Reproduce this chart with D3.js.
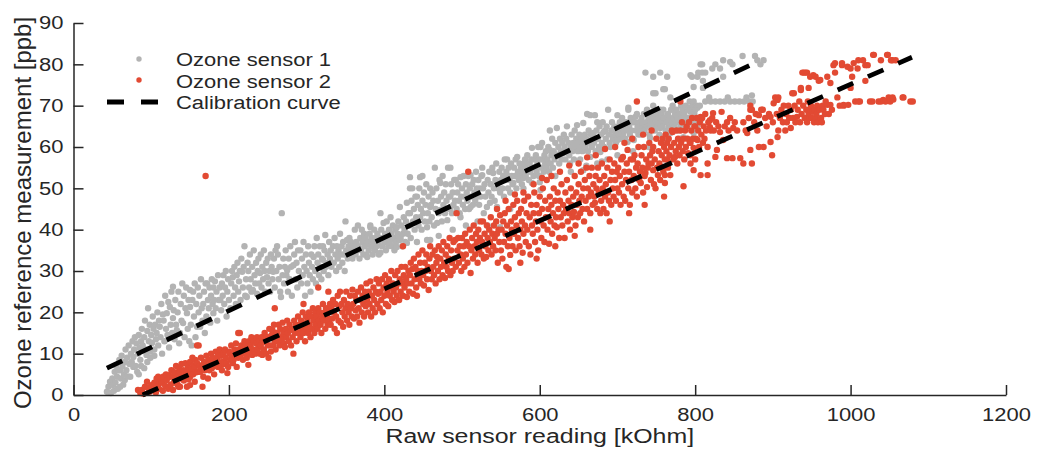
<!DOCTYPE html>
<html>
<head>
<meta charset="utf-8">
<title>Ozone sensor calibration</title>
<script src="https://d3js.org/d3.v7.min.js"></script>
<style>
  body { margin: 0; background: #fff; }
  svg { display: block; font-family: "Liberation Sans", Arial, sans-serif; }
</style>
</head>
<body>
<svg id="chart" width="1037" height="458"></svg>
<script>
// [raw reading kOhm, reference ppb]
const sensor1 = [
  [43,0.8],[45,2],[47,3.2],[48,0.5],[50,4],[51,2.4],[52,1],[53,5.6],[54,3],[55,7],[56,4.4],[57,1.5],[58,6],[59,8.5],[60,2],[60,6],[61,4],[62,9.5],[63,7],[64,2.5],[65,5],[66,3.6],[66,8],[67,11],[68,6],[69,9],[70,4.5],[71,12],[72,7.5],[73,4.4],[74,10],[75,8],[76,13],[77,6.8],[77,9.2],[78,11],[79,14],[80,7],[81,12.5],[82,5.6],[83,10],[84,14.5],[84,5],[85,11.5],[86,8.5],[87,13],[87,7],[88,16],[89,12],[90,10.9],
  [91,14],[91,6.5],[92,18],[93,11],[94,9.7],[95,15.5],[95,8],[96,21],[97,13],[98,17],[99,10.5],[99,9],[100,14.5],[101,12.6],[102,19],[103,16],[104,11],[104,9.5],[105,17],[106,13.5],[107,15],[108,20],[109,12],[110,18],[111,16.5],[112,14],[113,22],[114,10],[115,19.5],[116,18],[117,13],[118,24],[119,16],[120,19.8],[121,14.5],[122,22.5],[123,11.5],[124,21.3],[125,17],[126,25],[127,15],[128,18.6],[128,26.2],[129,20.5],[130,13.5],[131,23],[132,17],[133,15.7],[134,20],[135,25],[136,12.5],[137,15],[138,22],[139,18],[140,27],[141,17.4],[142,24],[143,14],[144,21],[145,26],[146,19.8],[147,16],[148,23],[149,13],[150,21.3],[150,25.4],
  [151,17],[152,12],[153,23],[154,25],[155,19],[156,27],[157,14],[158,22],[159,16.5],[160,26],[161,20],[162,24],[163,16.5],[164,28],[165,21],[166,18],[167,22],[168,25],[169,15],[170,27],[171,19],[172,18],[172,27],[173,23],[174,21],[175,26],[176,17.5],[177,24],[178,28],[179,22],[180,19.8],[180,26],[181,23],[182,27.5],[183,21],[184,25],[185,18],[186,29],[187,23],[188,26],[189,23],[190,20.5],[191,27],[192,24],[193,29],[194,22],[195,26],[196,30],[197,19],[198,25],[199,28],[200,23],
  [202,21],[203,27],[204,30],[205,28.5],[206,24],[207,31],[208,26],[209,22],[210,29],[211,32],[212,25],[213,27.5],[214,30],[215,23],[216,33],[217,29.8],[218,26],[219,31],[220,36],[221,24],[222,28],[223,23.7],[224,32],[225,30],[226,26],[227,34],[228,28],[229,25],[230,31],[231,25.4],[232,35],[233,29],[234,27],[235,32],[236,24.5],[237,30],[238,33],[239,27],[240,29.5],[241,34],[242,26],[243,31],[244,28],[245,35],[246,30],[247,25],[248,32],[249,28.5],[250,33],[251,27],[252,30],[253,25],[254,34],[255,31],[256,28],[257,29.8],[258,33],[259,26],[260,35],[261,30],[262,36],[263,34],[264,28],[265,31],[266,25],[267,23.7],[268,44],[269,29],[270,33],[271,27],[272,31],[273,35],[274,29],[275,30.2],[276,25],[277,33],[278,28],[279,36],[280,31],
  [281,24],[283,31.4],[284,34],[285,37],[286,28],[287,32],[288,26],[289,35],[290,30],[292,35],[293,27],[294,33],[295,29],[296,37],[297,31],[298,24],[299,34],[300,30],[301,27],[302,36],[303,32],[304,29],[305,25],[306,34],[307,31],[308,28],[309,33.4],[310,36],[311,30],[312,27],[313,38],[314,32],[315,34],[316,29],[317,36],[318,31],[319,28],[320,33],[321,32.7],[321,36],[322,30],[323,35],[324,38.7],[325,31],[326,31.9],[327,34],[328,29],[329,37],[330,33],[331,35],[332,31],[334,36],[335,32],[336,38],[337,34],[338,30],[339,36],[340,33],[341,35],[342,31],[343,39],[344,34],[345,36],[346,32],[347,37],[348,34],[349,30],[350,42],[351,35],[352,37.5],[353,33],[354,36],[355,38],[356,34],[357,37],[358,35],[359,33],[360,36],
  [362,40],[363,34],[364,37],[365,35],[366,41],[367,36],[368,33],[369,38],[370,35],[371,40],[372,37],[373,34],[374,39],[375,36],[376,38],[377,34],[378,33.4],[379,37],[380,35],[381,39],[382,41],[382,40.6],[383,36],[384,38],[385,34],[386,37],[387,40],[388,35],[389,38],[390,36],[391,39],[392,37],[393,34],[394,38],[395,44],[395,34.4],[396,40],[397,36],[398,38],[399,41.6],[400,37],[401,39],[402,35],[403,42],[404,38],[405,36],[406,40],[407,37],[408,43],[408,37.5],[409,39],[410,36],[411,41],[412,38],[413,35],[414,40],[415,37],[416,40.6],[416,35.8],[417,39],[418,42],[419,38],[420,45.5],[420,37.5],[421,38],[422,41],[423,36],[424,39],[425,43],[426,40],[427,37],[428,42],[429,46.5],[429,36.8],[430,39],
  [431,44],[432,41],[433,52.7],[433,50],[433,44],[434,38],[435,47],[436,50],[437,42],[438,45],[439,40],[440,48],[441,43],[442,48],[442,37],[443,46],[444,41],[445,50],[446,52.7],[446,43],[447,45],[448,40],[449,53],[449,47],[450,44],[451,49],[452,42],[453,46],[454,51],[455,40.6],[455,37.5],[456,44],[457,48],[458,42],[459,50],[459,45.5],[459,37.5],[460,46],[461,43],[462,49],[463,47],[464,41],[465,55],[466,45],[467,50],[468,41.6],[469,47],[470,44],[470,38.5],[471,52],[472,51.3],[472,44.8],[473,48],[474,42],[475,53],[476,46],[477,49],[478,44],[479,51],[480,47],[481,42.3],[482,55],[483,48],[484,45],[485,55],[485,48],[485,45.5],[486,51],[487,44],[488,49],[488,40],[489,46],[490,52],[491,47],[492,52],[493,45],[494,49],[495,51],[496,47],[497,44],[498,43],[498,52.7],[499,48],[500,50],[501,46],[502,53],[503,48],[504,45],[505,51],[505,41],[506,49],[507,47],[508,53],[509,45],[510,50],[511,53.2],[511,45.5],[512,48],[513,51],[514,46],[515,52],[516,49],[517,47],[518,54],[519,50],[520,48],[520,42],[521,52],[522,46],[523,50],[524,48],[525,53],[526,55],[526,53.2],[527,50],[528,44],[529,51],[530,48],
  [532,45.5],[533,52],[533,41],[534,49],[535,54],[536,46.5],[537,51],[538,48],[539,55],[540,53.7],[541,50],[542,47],[543,52],[544,56],[545,45.5],[546,50],[547,51.5],[548,54],[549,49],[549,40.6],[550,52],[551,55],[552,50],[553,53],[554,48],[555,57],[556,52],[557,54],[558,53.2],[558,57],[559,50],[560,55],[561,52],[562,49],[562,45],[563,56],[564,53],[565,51],[566,51.3],[567,55],[568,53],[569,57],[570,50],[571,57.6],[572,54],[573,52],[574,56],[575,53],[576,55],[577,51],[578,54],[579,52.5],[579,50],[580,56],[581,57],[582,53],[583,55],[584,58],[585,54],[586,52],[587,56],[588,54],[589,57],[590,59.8],[590,51.3],[591,55],[592,53],[593,57],[594,55],[595,58],[596,54],[597,56],[598,60],[599,53],[600,57],[600,51.5],[601,60],[601,49.6],[602,55],[603,61],[604,57],[605,54],[606,58],[607,56],[608,59],[609,55],[610,57],[611,60],[612,54],[613,59.3],[613,64],[614,56],[615,58],[616,62],[617,55],[618,59],[619,57],[620,61],[620,53],
  [622,64.6],[623,58],[624,60],[625,56],[626,62],[627,59],[628,57],[629,61],[630,58.5],[631,63],[632,60],[633,57],[634,62],[635,65],[636,59],[637,61],[638,58],[639,56],[640,60],[640,54],[641,63],[642,59],[643,61],[644,57],[645,64],[646,60],[647,62],[648,65.3],[649,59],[650,61],[651,63],[652,57],[653,60],[654,62],[655,59],[656,65.8],[656,54.4],[657,61],[658,63],[659,60],[660,62],[660,55.5],[661,68],[662,59],[663,64],[664,61],[665,67.7],[665,57.6],[666,63],[667,60],[668,62],[669,63.4],[670,61],[671,67.7],[672,59],[673,64],[674,66],[674,56],[675,62],[676,60],[677,65],[678,58.8],[679,63],[680,61],[680,56.5],[681,66],[682,63.6],[683,60],[684,64],[685,62],[686,65],[687,57],[688,69],[689,63],[690,61],[691,60],[692,64],[693,66],[694,62],[695,62.4],[696,65],[697,63],[698,61],[699,64],[700,67.7],[700,61.7],[700,58],[701,65],[702,63],[703,66],[704,62],[705,64],[706,67],[707,63],[708,64],[709,65],[710,62],[711,66],[712,64],[713,61.2],[714,69],[714,69.5],[715,65],[716,63],[717,67],[718,64],[719,66],[720,62],[720,59],
  [721,61.7],[722,66],[723,67.3],[724,64],[725,68],[726,65],[727,63],[728,66],[729,64],[730,63],[731,67],[732,65],[733,65.8],[734,68],[735,64],[736,78],[737,66],[738,69],[739,65],[740,67],[740,60],[741,63],[742,64.8],[742,62.2],[743,66],[744,68],[745,65],[746,77],[746,73],[746,70],[747,67],[748,64],[749,73],[750,66],[751,68],[752,65],[753,67],[754,63],[755,78],[755,69],[755,64.6],[756,66],[757,68],[758,65],[759,74],[759,69],[760,67],[761,74],[762,64],[762,61.5],[763,66],[764,77],[765,68],[766,65],[767,67],[768,72],[768,65.8],[768,63.4],[769,69],[770,66],[771,70],[772,67],[773,65],[774,68],[775,66],[776,69],[777,67],[778,64],[779,66],[780,68],[781,65],[781,62],[782,70],[783,67],[784,69],[785,64.8],[785,62.4],[786,68],[787,66],[788,70],[789,67],[790,65],[791,69],[792,67],[793,71],[794,77.4],[794,69.5],[794,68.5],[795,66],[796,77],[797,70],[798,74.5],[798,71],[798,63.4],[799,68],[800,69],[801,66],[802,70],[803,77],[803,69.5],[803,65.3],[804,78],[805,67],[806,70],[807,80],[807,66.5],[809,80],[809,78],[810,76],[810,74.3],[813,71],[813,78],[818,72],[820,71],[822,79],[826,71],[826,80],[832,71],[832,79],[836,81],[836,77],[838,71],[842,72],[845,71],[845,80.6],[848,80],[851,71],[857,71],[861,82],[863,71],[866,72],[870,71],[873,72.5],[874,71],[877,82],[880,81],[884,80],[888,81]
];

const sensor2 = [
  [83,1.2],[86,0.5],[88,1.2],[90,0.3],[92,2],[94.6,3.2],[96,1.7],[98,0.8],[100,2.4],[102,1.2],[104,3],[106,0.6],[107,2],[107,4],[109,4.4],[110,1.5],[111,2.9],[113,3.5],[114,3],[115,1],[116,4.5],[118,2.2],[119,5],[120,3.6],[122,1.5],[123,4.8],[124,4.4],[125,2.5],[126,6],[128,4.4],[128,1.2],[129,3],[130,5.5],[131,3],[132,7],[133,4.2],[134,2.5],[135,2],[135,5.2],[136,6.5],[137,5.6],[137,2],[138,4],[139,7.5],[140,4.4],
  [141,6],[142,3.5],[143,5.8],[144,7.7],[145,4],[146,5.6],[146,4.8],[146,2],[147,7],[148,3.8],[149,6],[150,8],[150,4.4],[150,2.4],[151,5.5],[152,6.5],[153,9],[154,5],[155,7.2],[156,6.8],[156,3.2],[157,8.5],[158,5.5],[159,12],[159,7.7],[160,5.6],[161,12],[162,7],[163,5.6],[164,9],[165,6.5],[166,7.3],[166,2],[167,4.4],[168,8],[169,6.8],[169,6],[170,53],[171,9.5],[172,7],[173,4],[174,8.5],[175,6],[176,7.7],[177,10],[178,6.5],[179,9],[180,7.7],[181,5],[182,8],[183,10.5],[184,7],[185,9],[186,6.8],[186,10],[187,8],[188,11],[189,6.8],[190,9.5],[191,6],[192,8],[193,10],[194,7.5],[195,11],[196,9],[197,7.7],[198,5.3],[199,6.8],[200,10.5],[201,10],[202,8.5],[203,12],[204,9.5],[205,7.7],[206,8.5],[207,11],[208,9.7],[209,12.5],[210,6.8],[211,10],[212,9],[212,15],[213,11],[214,15],[215,9.5],[216,12],[217,10.5],[218,8.5],[219,11.5],[220,13],[221,10],[222,12],[223,9],[224,11],[225,7.3],[226,13],[227,10],[228,12],[229,14],[230,9.7],[231,11],[232,13],[233,10.5],[234,10],[235,12.5],[236,14],[237,11],[238,11.6],[239,13],[240,10],
  [241,12],[242,14],[243,9.7],[244,13],[245,11],[246,15],[247,12.8],[248,10],[249,14],[250,12],[251,14],[251,9],[252,16],[253,12],[254,10.5],[255,14.5],[256,15.7],[257,12],[258,17],[259,21],[259,13],[260,11],[261,15],[262,15],[263,13],[264,17],[265,12],[266,16],[267,14],[268,13.3],[269,17.5],[270,15],[271,12.5],[272,11.6],[273,16],[274,14],[275,18],[276,15],[277,13],[278,17],[279,15.7],[280,12],[281,16],[282,14],[283,10],[284,18],[285,15],[286,17],[287,13],[288,16.5],[289,19],[290,15],[291,17],[292,14],[293,18],[294,16],[295,20],[296,22],[296,15],[297,17],[298,13],[299,19],[300,16],[301,18],[302,15],[303,20],[304,17],[305,14],[306,19],[307,16],[308,21],[309,18],[310,15],[311,20],[312,17],[313,19],[314,16],[315,21],[315,26],[316,18],[317,20],[318,17],[319,15],[320,19],[321,22],[322,18],[323,20],[324,16],[325,21],[326,19],[327,17],[328,25],[328,20],[329,18],[330,22],
  [331,17],[332,21],[333,18.5],[334,23],[335,20],[336,16],[337,22],[338,19],[339,15],[340,24],[341,18],[342,21.5],[343,25],[344,17.5],[345,22],[346,20],[347,16.5],[348,23],[349,19],[350,21],[351,25],[352,18],[353,22],[354,20],[355,17],[356,24],[357,21],[358,19],[359,25.5],[360,22],[361,18.5],[362,24],[363,20.5],[364,23],[365,19],[366,25],[367,21],[368,17.5],[369,23],[370,26],[371,20],[372,24],[373,22],[374,19],[375,25],[376,21.5],[377,27],[378,23],[379,20],[380,25],[381,22],[382,27.5],[383,19],[384,24],[385,21],[386,26],[387,23],[388,20],[389,25],[390,28],[391,22],[392,24.5],[393,27],[394,21],[395,25],[396,23],[397,28],[398,20],[399,26],[400,24],[401,29],[402,22],[403,27],[404,25],[405,21.5],[406,28],[407,24],[408,26],[409,30],[410,23],[411,27],[412,25],[413,22.5],[414,29],[415,26],[416,24],[417,30],[418,27],[419,23],[420,28],[421,25],[422,31],[423,27],[424,36],[424,24],[425,29],[426,26],[427,31],[428,28],[429,23.7],[430,27],
  [431,30],[432,25],[433,29],[434,32],[435,27],[436,30.5],[437,24.5],[438,33],[439,28],[440,31],[441,26],[442,24],[443,30],[444,34],[445,28],[446,32],[447,27],[448,30],[449,35],[450,29],[451,26.5],[452,32],[453,30],[454,34],[455,28],[456,31],[457,25.4],[458,33],[459,36],[460,30],[461,28],[462,34],[463,31],[464,29],[465,35],[466,27],[467,32],[468,33.4],[469,30],[470,36],[471,28],[472,33],[473,31],[474,35],[475,29],[476,37],[477,32],[478,28.3],[479,34],[480,31],[481,36],[482,30],[483,33],[484,38],[485,29],[486,35],[487,32],[488,30],[489,37],[490,33],[491,37.5],[492,31],[493,44],[494,35],[495,38],[496,32],[497,36],[498,34],[499,30],[500,38],[501,33],[502,36],[503,31],[504,39],[505,34],[506,37],[507,32],[508,54],[509,36],[510,40],[511,29.5],[512,35],[513,38],[514,33],[515,41],[516,36],[517,34],[518,39],[519,37],[520,32],[521,40],[522,35],[523,38],[524,42],[525,34],[526,37],[527,42],[528,33],[529,39],[530,36],[531,33.4],[532,41],[533,38],[534,35],[535,40],[536,37],[537,43],[538,34],[539,39],[540,36],[541,41],[542,38],[543,35],[544,42],[545,39],[545,45],[546,32],[547,40],[548,37],[549,43.5],[550,35],
  [551,40],[552,33],[553,42],[554,37],[555,44],[556,39],[556,47],[557,31],[558,41],[559,36],[560,45],[560,30.5],[561,38],[562,33.9],[563,42],[564,40],[565,36],[566,46],[567,39],[568,43],[568,48.5],[569,35],[570,41],[571,47],[572,38],[573,44],[574,36],[575,40],[575,32],[576,45],[577,42],[578,34.4],[579,39],[579,49],[580,47],[581,41],[582,37],[583,44],[584,40],[585,48],[586,36],[587,43],[588,34],[589,46],[590,41],[591,39],[592,44],[592,51],[593,49],[594,37],[595,42],[596,46],[596,33],[597,40],[598,35],[599,44],[600,48],[601,42],[602,38],[603,45],[603,52.5],[604,50],[605,41],[606,37],[607,47],[608,43],[609,52],[610,40],[611,45],[612,36.6],[613,48],[614,42],[615,46],[615,53],[616,39],[617,44],[618,50],[619,41],[620,47],[620,36],[621,43],[622,40.6],[623,49],[624,45],[625,38],[626,47],[626,54],[627,43],[628,51],[629,41],[630,46],[631,44],[632,38],[633,49],[634,45],[635,52],[636,42],[637,47],[638,44],[638,55.5],[639,40],[640,50],[641,46],[642,43],[643,48],[644,44.3],[645,53],[645,38.5],[646,41],[647,49],[648,46],[649,43],[650,51],[650,56],[651,47],[652,44],[653,54],[654,48],[655,45],[656,50],[657,42],[658,52],[659,47],[660,55],[661,45],[661,57.5],[662,50],[663,48],[664,53],[665,44],[665,40],[666,49],[667,55],[668,46],[669,51],[670,48],[671,46.5],[672,53],[672,58],[673,50],[674,45],[675,55],[676,49],[677,52],[678,44],[679,47],[680,56],[681,50],[682,45],[683,53],[684,48],[684,59.5],[685,51],[686,44],[687,55],[688,49],[689,47],[690,57],[690,42],[691,52],[692,46],[693,54],[694,50],[695,48],[696,56],[697,52],[697,60],[698,47],[699,54],[700,50],
  [701,55],[702,49],[703,53],[704,46],[705,57],[706,51],[707,57.6],[708,48],[709,54],[709,61],[710,47],[711,52],[712,56],[713,59.3],[714,50],[715,54],[715,44],[716,46],[717,57],[718,52],[719,49],[719,62],[720,57],[721,53],[722,58],[723,50],[724,55],[725,71],[725,48],[726,56],[727,60],[728,52],[729,54],[730,51.3],[731,58],[732,55],[733,49],[733,63],[734,60],[735,53],[735,46],[736,53.7],[737,57],[738,50.3],[739,55],[740,56],[741,61],[742,58],[743,52],[744,56],[744,64],[745,59],[746,60],[746,54.4],[747,51],[748,57],[749,50],[750,62],[751,55],[752,53.2],[753,59],[754,56],[755,52],[756,61],[757,58],[758,62],[758,55],[759,54],[760,60],[760,48],[761,57],[761,53.2],[761,51.3],[762,63],[763,59],[764,61],[764,57],[765,55],[766,62],[767,58],[768,53.2],[769,60],[770,64],[771,63.6],[772,57],[773,61],[774,57.6],[775,59],[776,64],[777,56],[778,62],[779,60],[780,58],[781,64],[781,71],[782,61],[783,66],[784,59],[785,62],[785,50.5],[786,57],[787,64],[788,60],[789,65],[790,62],[791,58.5],[792,66],[793,61],[794,61],[794,58],[794,56],[795,64],[796,67],[797,62],[798,59.8],[798,54.4],[799,65],[800,57],[800,65],[801,62],[802,67],[803,61.7],[804,64],[805,60],[806,66],[807,67.3],[807,53.2],[808,63],[809,67],[810,61],[811,65],[812,62],[813,68],[814,64],[816,60],[816,56],[816,53.2],[817,66],[819,66.5],[819,64.8],
  [820,64],[822,67],[823,68.2],[824,64],[826,57.6],[827,66],[828,59.3],[830,65],[832,63.6],[834,68.5],[836,61.7],[838,65],[841,66],[841,57.3],[843,64],[845,67],[848,57.3],[849,64.6],[851,66],[854,64],[858,57.3],[862,66],[862,56],[865,64],[867,63.4],[869,67],[871,59.3],[871,69],[871,70],[873,56],[873,69],[876,66],[878,68],[880,64],[882,60],[882,67.7],[885,69],[887,69],[888,60],[890,67],[892,65],[895,68],[897,67.3],[897,61.2],[899,58],[900,66],
  [901,70.6],[903,72],[905,68],[906,62.4],[906,71.4],[907,64],[907,72],[909,67],[911,69],[913,66],[914,70],[916,64],[917,68],[918,66],[920,70],[921,67],[923,69],[923,64.6],[925,73],[926,67],[927,73],[928,70],[929,66],[931,67.3],[932,69],[934,71],[935,66],[936,73.8],[936,74.3],[937,68],[938,78],[939,70],[940,78],[941,67],[942,78],[943,69],[944,78],[944,66],[945,71],[946,74.3],[946,68],[947,67],[948,77],[948,69],[949,70],[950,67],[951,68.5],[952,77.4],[953,66],[954,69],[955,77],[955,67],[956,68],[957,70],[958,66],[959,76],[960,69],[961,76.2],[962,67],[963,66],[964,70],[965,69],[967,68],[968,71],[970,70.2],[970,77],[972,68],[974,75.5],[974,70.2],[976,69],[978,79.8],[980,78],[980,80.3],[983,72],[986,70],[989,79.8],[989,80.3],[991,70],[991,70.2],[996,79.4],[997,70.2],[1000,74.3],[1000,79],[1002,77],[1004,80.3],[1006,71],[1009,79],[1010,81],[1010,71],[1012,71],[1016,81],[1019,79.8],[1019,76],[1022,79.8],[1025,71],[1028,71],[1029,82.3],[1030,82.3],[1036,71],[1039,81],[1039,71],[1042,71.4],[1045,71],[1047,82.3],[1048,82.3],[1049,72],[1051,71],[1052,81],[1054,72],[1054,81],[1055,71.5],[1058,81],[1067,72],[1068,72],[1077,71],[1080,71]
];

// end points of the two linear calibration curves
const calib1 = [[43, 6.5], [880, 80.6]];
const calib2 = [[89, 0], [1079, 81.7]];

const xTicks = [0, 200, 400, 600, 800, 1000, 1200];
const yTicks = [0, 10, 20, 30, 40, 50, 60, 70, 80, 90];
const legendLabels = ["Ozone sensor 1", "Ozone sensor 2", "Calibration curve"];
const xTitle = "Raw sensor reading [kOhm]";
const yTitle = "Ozone reference measurement [ppb]";

const grey = "#b3b3b3";
const red = "#e24a33";
const ink = "#262626";
const stretch = 1.22;

const svg = d3.select("#chart");

const x = d3.scaleLinear().domain([0, 1200]).range([73.5, 1006]);
const y = d3.scaleLinear().domain([0, 90]).range([395, 23]);

// points
svg.append("g")
  .selectAll("circle")
  .data(sensor1)
  .join("circle")
  .attr("cx", d => x(d[0]))
  .attr("cy", d => y(d[1]))
  .attr("r", 3.2)
  .attr("fill", grey);

svg.append("g")
  .selectAll("circle")
  .data(sensor2)
  .join("circle")
  .attr("cx", d => x(d[0]))
  .attr("cy", d => y(d[1]))
  .attr("r", 3.2)
  .attr("fill", red);

// calibration curves
const line = d3.line().x(d => x(d[0])).y(d => y(d[1]));
[calib1, calib2].forEach(c => {
  svg.append("path")
    .attr("d", line(c))
    .attr("fill", "none")
    .attr("stroke", "#000")
    .attr("stroke-width", 4.8)
    .attr("stroke-dasharray", "17,16");
});

// axes
const xAxis = d3.axisBottom(x).tickValues(xTicks).tickFormat(d3.format("d"))
  .tickSizeInner(-10).tickSizeOuter(0).tickPadding(13);
const yAxis = d3.axisLeft(y).tickValues(yTicks).tickFormat(d3.format("d"))
  .tickSizeInner(-10).tickSizeOuter(0).tickPadding(10);

const gx = svg.append("g").attr("transform", `translate(0,${y(0)})`).call(xAxis);
const gy = svg.append("g").attr("transform", `translate(${x(0)},0)`).call(yAxis);

[gx, gy].forEach(g => {
  g.attr("font-family", null).attr("font-size", null);
  g.selectAll(".domain, .tick line").attr("stroke", ink).attr("stroke-width", 1.5);
  g.selectAll(".tick text").attr("fill", ink).style("font-size", "18px").classed("wide", true);
});

// axis titles
svg.append("text")
  .attr("class", "wide-title")
  .attr("x", (x.range()[0] + x.range()[1]) / 2)
  .attr("y", 443)
  .attr("text-anchor", "middle")
  .attr("fill", ink)
  .style("font-size", "20px")
  .text(xTitle);

svg.append("text")
  .attr("transform", "translate(31,213) rotate(-90)")
  .attr("text-anchor", "middle")
  .attr("fill", ink)
  .style("font-size", "24px")
  .text(yTitle);

// legend
const lg = svg.append("g");
lg.append("circle").attr("cx", 139).attr("cy", 59).attr("r", 2.7).attr("fill", grey);
lg.append("circle").attr("cx", 139).attr("cy", 80).attr("r", 2.7).attr("fill", red);
lg.append("line")
  .attr("x1", 107).attr("x2", 158).attr("y1", 102).attr("y2", 102)
  .attr("stroke", "#000").attr("stroke-width", 4.8).attr("stroke-dasharray", "17,17");

lg.selectAll("text")
  .data(legendLabels)
  .join("text")
  .attr("class", "wide")
  .attr("x", 176)
  .attr("y", (d, i) => 66 + i * 21.5)
  .attr("fill", ink)
  .style("font-size", "18px")
  .text(d => d);

// the source figure's horizontal text runs wider than the font
svg.selectAll("text.wide").each(function () {
  const w = this.getComputedTextLength();
  d3.select(this).attr("textLength", w * stretch).attr("lengthAdjust", "spacingAndGlyphs");
});
svg.selectAll("text.wide-title").each(function () {
  const w = this.getComputedTextLength();
  d3.select(this).attr("textLength", w * 1.245).attr("lengthAdjust", "spacingAndGlyphs");
});
</script>
</body>
</html>
